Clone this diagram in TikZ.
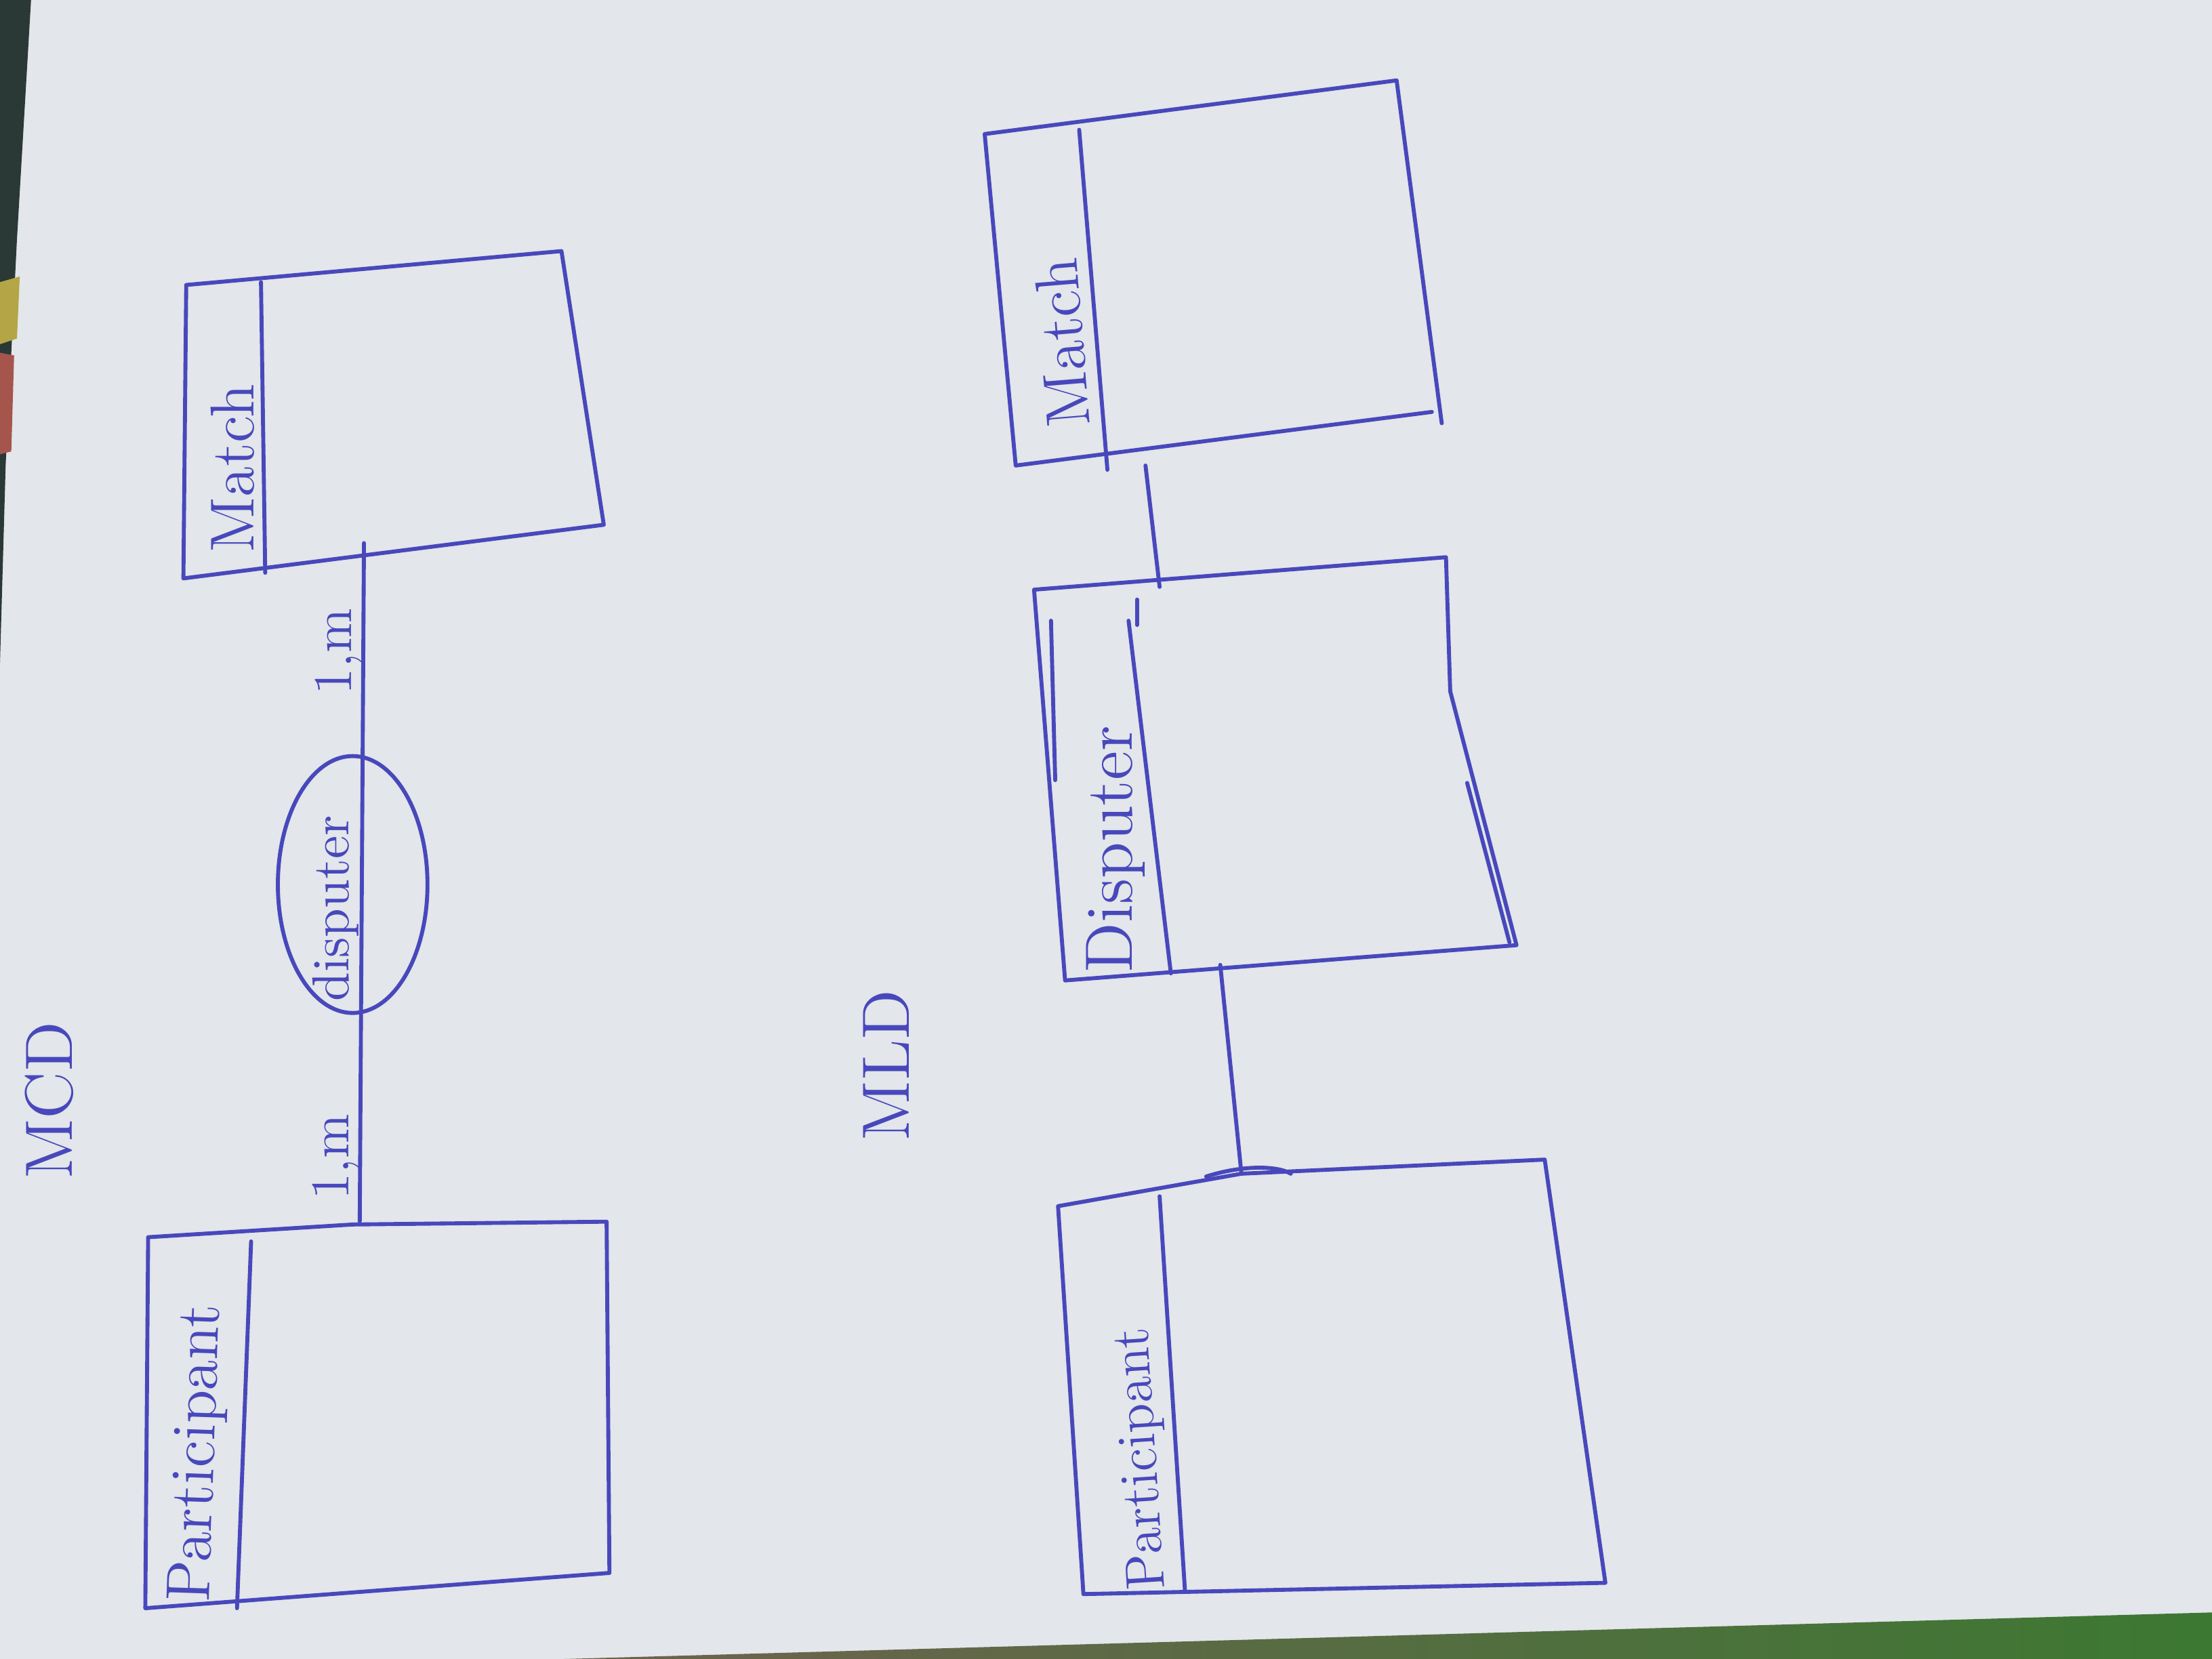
\documentclass[tikz,border=0pt]{standalone}
\usetikzlibrary{shapes.geometric}
\definecolor{pen}{RGB}{72,72,188}
\definecolor{paper}{RGB}{227,230,234}
\definecolor{tabledark}{RGB}{42,56,54}
\definecolor{tablebrown}{RGB}{110,98,80}
\definecolor{tablegreen}{RGB}{60,120,50}
\definecolor{spotyellow}{RGB}{180,165,70}
\definecolor{spotred}{RGB}{165,85,75}
\begin{document}
\begin{tikzpicture}[x=0.01cm,y=-0.01cm,
  ink/.style={draw=pen,line width=0.8pt,line join=round,line cap=round},
  hand/.style={text=pen,rotate=90,inner sep=0pt,font=\fontsize{12.5}{14}\selectfont},
  bighand/.style={hand,font=\fontsize{13.5}{15}\selectfont},
  card/.style={hand,font=\fontsize{11}{13}\selectfont},
]
\useasboundingbox (0,0) rectangle (1568,1176);
\fill[paper] (0,0) rectangle (1568,1176);
% table visible round the sheet
\fill[tabledark] (0,0) -- (22,0) -- (12,170) -- (4,330) -- (0,470) -- cycle;
\fill[spotyellow] (0,200) -- (14,196) -- (12,240) -- (0,244) -- cycle;
\fill[spotred] (0,250) -- (10,252) -- (8,320) -- (0,322) -- cycle;
\shade[left color=tablebrown, right color=tablegreen] (400,1176) -- (1568,1143) -- (1568,1176) -- cycle;

% ---------- MCD ----------
\node[bighand] (mcd) at (35,780) {MCD};

% Participant entity
\draw[ink] (105,877) -- (250,868) -- (430,866) -- (432,1115) -- (103,1140) -- cycle;
\draw[ink] (178,880) -- (168,1140);
\node[hand,rotate=-2] (part1) at (141,1030) {Participant};

% Match entity
\draw[ink] (132,202) -- (398,178) -- (428,372) -- (130,410) -- cycle;
\draw[ink] (185,200) -- (188,406);
\node[hand] (match1) at (165,332) {Match};

% association
\coordinate (p1top) at (255,866);
\coordinate (m1bot) at (258,385);
\draw[ink] (p1top) -- (m1bot);
\node[ink,ellipse,minimum width=1.06cm,minimum height=1.82cm] (disp1) at (250,627) {};
\node[card,font=\fontsize{10.5}{12}\selectfont] (disp1txt) at (238,644) {disputer};
\node[card] (card1) at (238,820) {1,m};
\node[card] (card2) at (240,462) {1,m};

% ---------- MLD ----------
\node[bighand] (mld) at (628,755) {MLD};

% Match table
\draw[ink] (1015,292) -- (720,330) -- (698,95) -- (990,57) -- (1022,300);
\draw[ink] (765,92) -- (785,333);
\node[hand,rotate=4.7] (match2) at (753,243) {Match};

% Disputer table
\draw[ink] (733,418) -- (1025,395) -- (1028,490) -- (1075,670) -- (755,695) -- cycle;
\draw[ink] (800,440) -- (830,690);
\draw[ink] (745,440) -- (748,553);
\draw[ink] (806,425) -- (806,443);
\draw[ink] (1040,555) -- (1070,668);
\node[bighand] (disp2) at (791,602) {Disputer};

% Participant table
\draw[ink] (750,855) -- (880,832) -- (1095,822) -- (1138,1122) -- (768,1130) -- cycle;
\draw[ink] (855,834) .. controls (880,826) and (905,826) .. (915,832);
\draw[ink] (822,848) -- (840,1128);
\node[hand,rotate=3.7,font=\fontsize{11}{13}\selectfont] (part2) at (810,1034) {Participant};

% links
\coordinate (m2bot) at (812,330);
\coordinate (d2top) at (822,416);
\coordinate (d2bot) at (865,684);
\coordinate (p2top) at (880,832);
\draw[ink] (m2bot) -- (d2top);
\draw[ink] (d2bot) -- (p2top);
\end{tikzpicture}
\end{document}
